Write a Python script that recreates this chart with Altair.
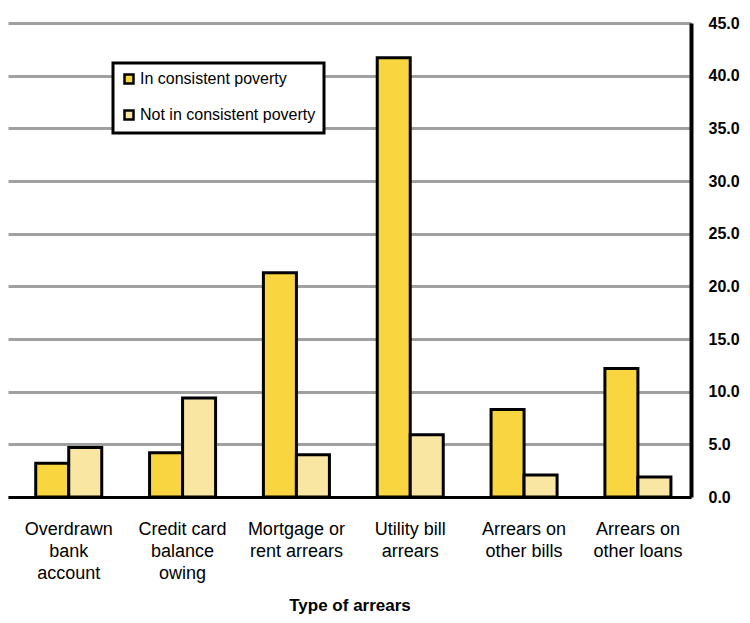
import altair as alt
import pandas as pd

categories = ["Overdrawn|bank|account", "Credit card|balance|owing", "Mortgage or|rent arrears",
              "Utility bill|arrears", "Arrears on|other bills", "Arrears on|other loans"]
series = ["In consistent poverty", "Not in consistent poverty"]
in_poverty = [3.2, 4.2, 21.3, 41.7, 8.3, 12.2]
not_in_poverty = [4.7, 9.4, 4.0, 5.9, 2.1, 1.9]
y_ticks = [0, 5, 10, 15, 20, 25, 30, 35, 40, 45]

rows = []
for c, a, b in zip(categories, in_poverty, not_in_poverty):
    rows.append({"cat": c, "series": series[0], "value": a})
    rows.append({"cat": c, "series": series[1], "value": b})
df = pd.DataFrame(rows)

chart = alt.Chart(df).mark_bar(stroke="black", strokeWidth=3).encode(
    x=alt.X("cat:N", sort=categories,
            scale=alt.Scale(paddingInner=0.42, paddingOuter=0.21, align=0.58),
            axis=alt.Axis(title="Type of arrears", labelAngle=0,
                          labelExpr="split(datum.value, '|')",
                          labelFont="Liberation Sans", labelFontSize=18, labelColor="black",
                          labelLineHeight=22, labelPadding=23, labelBaseline="top",
                          titleFont="Liberation Sans", titleFontSize=17, titleFontWeight="bold",
                          titleColor="black", titlePadding=15,
                          ticks=False, domainColor="black", domainWidth=3, grid=False)),
    xOffset=alt.XOffset("series:N", sort=series, scale=alt.Scale(paddingInner=0, paddingOuter=0)),
    y=alt.Y("value:Q", scale=alt.Scale(domain=[0, 45], nice=False),
            axis=alt.Axis(orient="right", values=y_ticks, format=".1f", title=None,
                          labelFont="Liberation Sans", labelFontSize=16, labelFontWeight="bold",
                          labelColor="black", labelPadding=17, ticks=False, labelLimit=60,
                          domainColor="black", domainWidth=4,
                          grid=True, gridColor="#a0a0a0", gridWidth=3)),
    color=alt.Color("series:N", sort=series,
                    scale=alt.Scale(domain=series, range=["#F9D63F", "#F9E6A2"]),
                    legend=alt.Legend(title=None, orient="none", legendX=105, legendY=40,
                                      symbolType="square", symbolSize=81,
                                      symbolStrokeColor="black", symbolStrokeWidth=2.5,
                                      labelFont="Liberation Sans", labelFontSize=16,
                                      labelColor="black", rowPadding=16, padding=8,
                                      labelLimit=260,
                                      strokeColor="black", fillColor="white",
                                      labelOffset=3)),
).properties(
    width=683, height=474,
    padding={"left": 0, "top": 15, "right": 50, "bottom": 118},
    autosize=alt.AutoSizeParams(type="none"),
).configure_view(stroke=None).configure_legend(strokeWidth=3)

chart.save("out.html", embed_options={"renderer": "svg", "actions": False})
